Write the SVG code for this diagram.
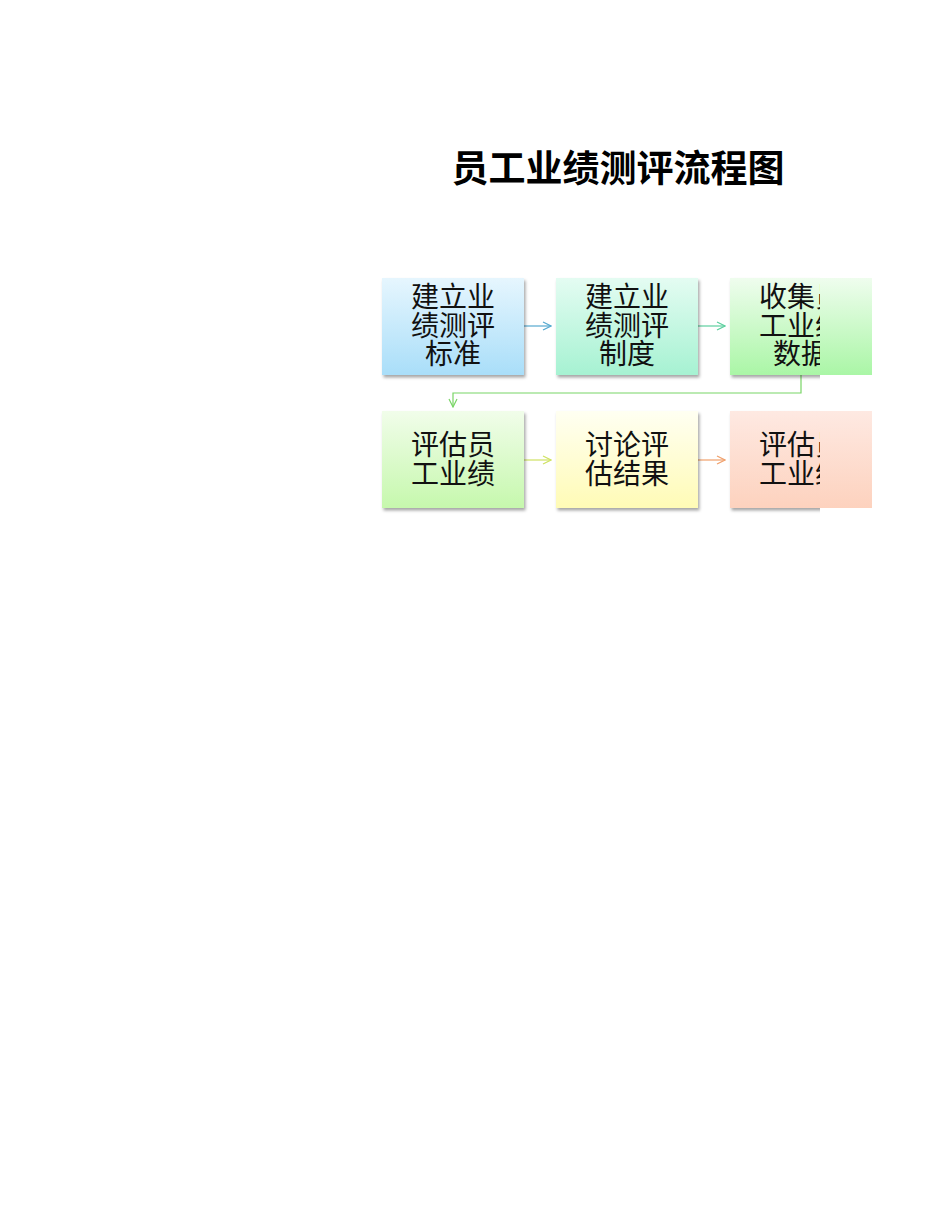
<svg xmlns="http://www.w3.org/2000/svg" width="950" height="1230" viewBox="0 0 950 1230">
<defs>
<style>
.t{font-family:"Noto Sans CJK SC","Noto Sans",sans-serif;font-size:28px;fill:#111;text-anchor:middle}
.title{font-family:"Noto Sans CJK SC","Noto Sans",sans-serif;font-size:37px;font-weight:bold;fill:#000;text-anchor:middle}
.c{fill:none;stroke-width:1.2}
</style>
<linearGradient id="g1" x1="0" y1="0" x2="0" y2="1"><stop offset="0" stop-color="#e6f6fe"/><stop offset="1" stop-color="#a9def9"/></linearGradient>
<linearGradient id="g2" x1="0" y1="0" x2="0" y2="1"><stop offset="0" stop-color="#e4fcf2"/><stop offset="1" stop-color="#a6f2d2"/></linearGradient>
<linearGradient id="g3" x1="0" y1="0" x2="0" y2="1"><stop offset="0" stop-color="#effdee"/><stop offset="1" stop-color="#aaf6a6"/></linearGradient>
<linearGradient id="g4" x1="0" y1="0" x2="0" y2="1"><stop offset="0" stop-color="#f1fdea"/><stop offset="1" stop-color="#c6f8ad"/></linearGradient>
<linearGradient id="g5" x1="0" y1="0" x2="0" y2="1"><stop offset="0" stop-color="#fffff2"/><stop offset="1" stop-color="#fffbb6"/></linearGradient>
<linearGradient id="g6" x1="0" y1="0" x2="0" y2="1"><stop offset="0" stop-color="#fee9e2"/><stop offset="1" stop-color="#fdd2be"/></linearGradient>
<filter id="sh" x="-10%" y="-10%" width="125%" height="130%"><feDropShadow dx="1.5" dy="2.5" stdDeviation="1.8" flood-color="#000" flood-opacity="0.35"/></filter>
<clipPath id="cl"><rect x="0" y="0" width="820" height="1230"/></clipPath>
<marker id="a1" viewBox="0 0 10 10" refX="9" refY="5" markerWidth="10" markerHeight="10" markerUnits="userSpaceOnUse" orient="auto"><path d="M1,1 L9,5 L1,9" fill="none" stroke="#56a9cf" stroke-width="1.2"/></marker>
<marker id="a2" viewBox="0 0 10 10" refX="9" refY="5" markerWidth="10" markerHeight="10" markerUnits="userSpaceOnUse" orient="auto"><path d="M1,1 L9,5 L1,9" fill="none" stroke="#5ccf9e" stroke-width="1.2"/></marker>
<marker id="a3" viewBox="0 0 10 10" refX="9" refY="5" markerWidth="10" markerHeight="10" markerUnits="userSpaceOnUse" orient="auto"><path d="M1,1 L9,5 L1,9" fill="none" stroke="#79d566" stroke-width="1.2"/></marker>
<marker id="a4" viewBox="0 0 10 10" refX="9" refY="5" markerWidth="10" markerHeight="10" markerUnits="userSpaceOnUse" orient="auto"><path d="M1,1 L9,5 L1,9" fill="none" stroke="#cfe263" stroke-width="1.2"/></marker>
<marker id="a5" viewBox="0 0 10 10" refX="9" refY="5" markerWidth="10" markerHeight="10" markerUnits="userSpaceOnUse" orient="auto"><path d="M1,1 L9,5 L1,9" fill="none" stroke="#f0a06c" stroke-width="1.2"/></marker>
</defs>
<rect width="950" height="1230" fill="#fff"/>
<text class="title" x="618" y="182">员工业绩测评流程图</text>

<g id="connectors">
<path class="c" d="M524,326 H551" stroke="#56a9cf" marker-end="url(#a1)"/>
<path class="c" d="M698,326 H725" stroke="#5ccf9e" marker-end="url(#a2)"/>
<path class="c" d="M801,375 V393 H453 V407" stroke="#79d566" marker-end="url(#a3)"/>
<path class="c" d="M524,460 H551" stroke="#cfe263" marker-end="url(#a4)"/>
<path class="c" d="M698,460 H725" stroke="#f0a06c" marker-end="url(#a5)"/>
</g>

<g id="n1">
<rect x="382" y="278" width="142" height="97" fill="url(#g1)" filter="url(#sh)"/>
<text class="t"><tspan x="453" y="307">建立业</tspan><tspan x="453" y="336">绩测评</tspan><tspan x="453" y="364">标准</tspan></text>
</g>
<g id="n2">
<rect x="556" y="278" width="142" height="97" fill="url(#g2)" filter="url(#sh)"/>
<text class="t"><tspan x="627" y="307">建立业</tspan><tspan x="627" y="336">绩测评</tspan><tspan x="627" y="364">制度</tspan></text>
</g>
<g id="n3">
<rect x="820" y="278" width="52" height="97" fill="url(#g3)"/>
<g clip-path="url(#cl)">
<rect x="730" y="278" width="142" height="97" fill="url(#g3)" filter="url(#sh)"/>
<text class="t"><tspan x="801" y="307">收集员</tspan><tspan x="801" y="336">工业绩</tspan><tspan x="801" y="364">数据</tspan></text>
</g>
</g>
<g id="n4">
<rect x="382" y="411" width="142" height="97" fill="url(#g4)" filter="url(#sh)"/>
<text class="t"><tspan x="453" y="455">评估员</tspan><tspan x="453" y="484">工业绩</tspan></text>
</g>
<g id="n5">
<rect x="556" y="411" width="142" height="97" fill="url(#g5)" filter="url(#sh)"/>
<text class="t"><tspan x="627" y="455">讨论评</tspan><tspan x="627" y="484">估结果</tspan></text>
</g>
<g id="n6">
<rect x="820" y="411" width="52" height="97" fill="url(#g6)"/>
<g clip-path="url(#cl)">
<rect x="730" y="411" width="142" height="97" fill="url(#g6)" filter="url(#sh)"/>
<text class="t"><tspan x="801" y="455">评估员</tspan><tspan x="801" y="484">工业绩</tspan></text>
</g>
</g>
</svg>
